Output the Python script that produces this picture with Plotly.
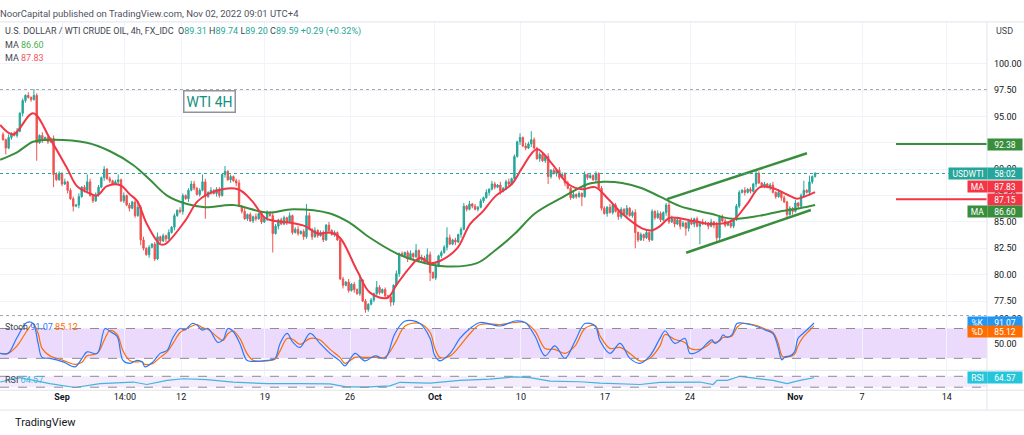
import plotly.graph_objects as go

# ---------------- data ----------------
closes = [
    92.8, 92.0, 93.0, 93.4, 93.2, 93.6, 95.3, 96.5, 97.0, 96.8,
    96.6, 97.0, 92.5, 93.2, 92.8, 93.0, 92.6, 92.9, 89.5, 89.0,
    89.6, 88.6, 88.8, 88.0, 87.2, 86.5, 86.6, 87.4, 88.3, 88.0,
    88.8, 87.5, 87.0, 87.6, 88.3, 89.2, 90.0, 89.1, 88.9, 88.6,
    88.8, 89.0, 87.0, 87.5, 86.6, 86.3, 86.9, 85.6, 86.4, 83.3,
    82.5, 81.9, 82.6, 82.9, 81.5, 83.6, 83.2, 83.7, 83.4, 84.0,
    84.5, 85.6, 86.1, 86.0, 87.5, 87.2, 88.0, 88.6, 88.2, 87.6,
    88.0, 88.8, 87.4, 87.8, 88.0, 87.7, 88.1, 87.5, 89.5, 89.8,
    89.0, 89.3, 88.9, 88.7, 86.5, 86.0, 85.3, 85.7, 85.1, 85.5,
    85.3, 85.8, 85.0, 85.4, 85.9, 85.6, 83.9, 84.6, 85.2, 84.8,
    85.4, 85.0, 85.6, 84.0, 84.3, 83.9, 84.1, 83.6, 85.6, 84.3,
    83.6, 84.2, 83.7, 84.0, 83.3, 84.7, 84.2, 83.8, 84.0, 83.3,
    79.6, 79.0, 79.3, 78.5, 79.1, 78.6, 78.2, 79.5, 77.5, 76.7,
    77.2, 77.6, 78.2, 78.8, 78.3, 78.6, 78.0, 77.9, 77.4, 79.0,
    80.1, 82.0, 81.8, 82.1, 81.5, 82.0, 81.7, 82.3, 81.4, 81.6,
    81.2, 81.9, 80.2, 79.7, 80.8, 81.8, 82.1, 82.6, 83.5, 82.9,
    83.3, 83.1, 83.8, 84.3, 86.5, 86.2, 86.7, 86.5, 86.2, 86.4,
    87.0, 87.3, 87.8, 88.1, 88.6, 88.3, 88.5, 87.9, 88.2, 88.8,
    88.6, 89.1, 91.2, 92.6, 93.0, 92.2, 92.0, 92.4, 92.8, 92.0,
    91.0, 91.4, 90.8, 91.2, 89.3, 89.9, 89.6, 89.9, 89.2, 89.5,
    88.7, 88.2, 87.3, 87.6, 87.4, 87.7, 87.4, 89.5, 89.2, 89.4,
    89.0, 89.6, 88.2, 86.3, 85.8, 86.4, 85.9, 86.6, 86.0, 85.5,
    86.2, 85.7, 86.3, 85.6, 85.9, 84.0, 83.3, 83.8, 83.5, 84.0,
    83.3, 86.0, 85.4, 85.8, 85.2, 85.9, 86.6, 85.0, 85.3, 84.8,
    85.2, 84.6, 84.9, 84.4, 85.1, 84.8, 85.3, 84.6, 85.0, 84.8,
    84.9, 84.6, 85.0, 84.7, 83.5, 85.5, 85.1, 84.7, 84.9, 84.6,
    85.2, 86.5, 87.8, 88.0, 87.8, 88.1, 87.9, 88.6, 89.6, 88.7,
    88.4, 88.6, 88.3, 88.5, 87.8, 87.4, 87.8, 87.3, 86.9, 85.7,
    86.3, 86.0, 86.8, 86.5, 87.5, 88.0, 87.8, 88.8, 89.31, 89.59,
]
first_open = 93.3
# wick lengths in tenths of a dollar, one digit per bar
up_wick = ("2131231213" "1221312132" "2131221312" "1312213121" "2213121312"
           "3121231213" "1213212131" "2131312213" "1212313121" "3121213212"
           "2131231213" "1312213121" "2213121312" "1213212131" "3121231213"
           "2131312213" "1212313121" "2131221312" "3121213212" "1221312132"
           "2213121312" "1312213121" "2131231213" "1213212131" "3121231213"
           "2131312213" "1221312132" "1212313121" "2131221312")
dn_wick = ("1312121321" "2121312131" "1213121312" "3121213121" "1312131213"
           "2131212131" "1312313121" "2121213213" "1313121212" "2121312131"
           "1312121321" "3121213121" "1312131213" "2121213213" "1312313121"
           "2131212131" "1313121212" "1213121312" "2121312131" "1312121321"
           "3121213121" "1312131213" "2131212131" "2121213213" "1312313121"
           "1313121212" "2121312131" "1213121312" "1312121321")
high_marks = {11: 97.6, 30: 89.5, 36: 90.3, 41: 89.5, 48: 87.0, 55: 84.0, 67: 88.9,
              71: 89.5, 79: 90.3, 108: 86.7, 127: 80.0, 133: 79.4, 147: 82.9,
              151: 82.5, 158: 84.5, 174: 88.9, 184: 93.4, 188: 93.6, 211: 89.8,
              237: 87.0, 268: 89.9, 285: 88.9, 287: 89.4, 289: 89.74}
low_marks = {1: 91.4, 12: 90.8, 18: 88.3, 25: 86.0, 49: 82.8, 54: 81.3, 72: 85.3,
             96: 82.1, 129: 76.4, 138: 77.0, 152: 79.4, 194: 88.6, 206: 86.5,
             225: 82.5, 243: 83.7, 248: 82.9, 254: 83.2, 279: 85.4, 289: 89.20}

# moving averages (bar index, value)
ma_fast_x = [-1.0, 3.6, 10.7, 16.7, 22.8, 26.3, 31.0, 33.5, 37.0, 41.6, 45.2, 47.7,
             51.2, 55.9, 57.7, 64.8, 69.4, 75.4, 83.6, 88.6, 93.2, 96.8, 102.8, 107.5,
             112.1, 116.4, 119.9, 126.0, 130.6, 136.7, 140.2, 144.8, 148.4, 152.0,
             155.5, 161.6, 166.2, 170.8, 175.1, 181.1, 184.7, 190.0, 195.4, 201.1,
             206.0, 210.7, 215.3, 220.3, 227.4, 231.0, 233.8, 237.4, 245.6, 251.6,
             259.4, 264.8, 269.4, 274.0, 279.0, 282.6, 286.1, 289.0]
ma_fast_v = [94.2, 93.3, 95.3, 92.9, 90.1, 88.4, 87.7, 87.5, 88.4, 88.5, 87.6, 87.0,
             84.8, 82.9, 82.9, 85.1, 87.0, 87.9, 88.1, 87.0, 85.4, 85.1, 84.9, 84.6,
             83.9, 84.0, 83.5, 80.4, 78.3, 77.8, 79.1, 80.7, 81.6, 81.1,
             81.3, 82.5, 84.8, 86.0, 87.4, 88.6, 90.1, 91.9, 90.5, 88.6,
             88.1, 88.3, 87.2, 85.8, 84.4, 84.2, 84.6, 85.4, 85.1, 84.8,
             85.1, 86.7, 88.3, 88.2, 87.6, 87.2, 87.5, 87.83]
ma_slow_x = [-1.0, 5.0, 10.7, 17.8, 29.9, 38.1, 46.3, 52.3, 58.4, 65.5, 71.9, 81.9,
             94.0, 103.2, 116.4, 123.5, 130.6, 140.2, 147.3, 156.6, 168.7, 175.1,
             182.2, 189.3, 198.9, 208.2, 213.2, 220.3, 227.4, 233.8, 240.9, 251.6,
             259.4, 269.4, 276.5, 283.6, 289.0]
ma_slow_v = [90.9, 91.6, 92.6, 92.8, 92.5, 91.7, 90.4, 89.0, 87.5, 86.7, 86.4, 86.6,
             85.9, 86.2, 85.8, 84.9, 83.5, 82.0, 81.3, 80.8, 81.1, 82.3,
             83.9, 85.8, 87.3, 88.6, 88.8, 88.7, 88.2, 87.4, 86.5, 85.8,
             85.3, 85.6, 86.0, 86.3, 86.6]

# stochastic (bar index, %K, %D)
stoch_x = [-1.0, 1.8, 5.0, 8.5, 10.7, 12.5, 13.9, 16.7, 21.4, 25.6, 28.1, 29.9, 33.5,
           36.3, 38.1, 40.6, 42.7, 45.2, 47.7, 49.5, 50.5, 53.4, 55.9, 58.4, 60.5,
           63.0, 64.8, 67.3, 69.0, 70.8, 73.0, 76.5, 78.3, 80.1, 81.9, 84.3, 86.8,
           89.0, 94.0, 96.8, 98.6, 101.1, 103.2, 105.7,
           109.3, 112.8, 116.4, 119.9, 121.7, 125.3, 128.8, 132.4, 135.9, 139.5,
           143.1, 148.4, 152.0, 153.7, 155.5, 159.1, 162.6, 166.2, 169.8, 176.9,
           182.2, 185.8, 189.3, 192.9, 196.4, 200.0, 203.6, 207.1, 210.7, 212.5,
           216.0, 219.6, 223.1, 226.7, 230.2, 233.8, 235.6, 239.1, 242.7, 244.5,
           248.0, 250.5, 252.3, 253.4, 255.2, 256.2, 257.7, 259.4, 261.2, 263.0,
           265.8, 268.7, 271.2, 274.0, 275.8, 277.2, 278.3, 280.1, 281.7, 282.9,
           284.7, 287.2, 288.6]
stoch_k = [30, 30, 62, 92, 90, 50, 22, 20, 13, 3, 20, 33, 30, 80, 74, 64, 16, 10, 16, 13,
           3, 13, 30, 36, 62, 80, 77, 90, 87, 77, 80, 52, 57, 80, 74, 50, 16, 14, 16, 20,
           50, 70, 52, 42,
           70, 50, 30, 15, 5, 30, 15, 25, 20, 70, 95, 90, 60, 25, 15, 30, 60, 80, 92, 85,
           95, 92, 65, 25, 45, 20, 55, 90, 85, 55, 30, 50, 20, 10, 25, 60, 75, 50, 60, 30,
           36, 50, 57, 50, 58, 67, 62, 67, 90, 91, 88, 83, 77, 70, 43, 17, 23, 25, 33, 60,
           70, 83, 91.07]
stoch_d = [30, 30, 45, 75, 90, 70, 40, 25, 16, 8, 12, 25, 30, 60, 76, 68, 35, 15, 13, 13,
           8, 10, 22, 33, 50, 72, 78, 85, 88, 82, 78, 62, 56, 70, 75, 60, 30, 16, 15, 18,
           35, 60, 58, 48,
           60, 57, 38, 22, 10, 22, 22, 22, 22, 50, 85, 90, 72, 40, 22, 25, 45, 70, 88, 88,
           92, 92, 75, 40, 38, 30, 45, 80, 86, 65, 40, 42, 30, 15, 20, 45, 68, 58, 52, 40,
           38, 45, 53, 52, 56, 62, 63, 65, 82, 90, 89, 85, 79, 72, 52, 25, 22, 24, 28, 45,
           62, 77, 85.12]

# RSI (bar index, value)
rsi_x = [-1.0, 6.0, 16.7, 25.6, 34.5, 46.3, 51.2, 58.4, 64.1, 72.6, 81.9, 94.0, 105.7,
         116.4, 121.7, 128.8, 137.7, 141.3, 152.0, 162.6, 173.3, 182.2, 187.5, 194.7,
         205.3, 212.5, 226.7, 233.8, 248.0, 252.7, 254.1, 257.7, 262.3, 266.9, 274.0,
         279.0, 283.6, 288.6]
rsi_v = [49, 65, 43, 29, 43, 49, 40, 55, 61, 58, 49, 43, 43, 42, 32, 30, 35, 48, 45, 55,
         60, 68, 65, 52, 50, 45, 40, 48, 49, 40, 55, 55, 70, 65, 55, 43, 55, 64.57]

# drawings
channel_upper = ([236.3, 286.1], [87.17, 91.51])
channel_lower = ([243.1, 287.5], [82.08, 86.13])
level_start = 317.8
level_resistance = 92.38
level_support = 87.15
last_price = 89.59
marked_high = 97.55

tick_pos = [21.0, 43.4, 63.4, 93.2, 123.5, 153.7, 184.3, 214.2, 244.5, 281.9, 305.7, 335.9]
tick_txt = ["<b>Sep</b>", "14:00", "12", "19", "26", "<b>Oct</b>", "10", "17", "24",
            "<b>Nov</b>", "7", "14"]
price_ticks = [77.5, 80.0, 82.5, 85.0, 87.5, 90.0, 92.5, 95.0, 97.5, 100.0]

# ---------------- styling ----------------
W, H = 1024, 435
UP, DOWN = "#26a69a", "#ef5350"
MA_RED, MA_GREEN = "#f23645", "#388e3c"
TXT = "#131722"
FONT = "Roboto, Liberation Sans, sans-serif"

def px(x):
    return x / W

def py(y):
    return 1 - y / H

n = len(closes)
bars = list(range(n))
opens = [first_open] + closes[:-1]
highs, lows = [], []
for i, (o, c) in enumerate(zip(opens, closes)):
    highs.append(high_marks.get(i, round(max(o, c) + int(up_wick[i]) / 10, 2)))
    lows.append(low_marks.get(i, round(min(o, c) - int(dn_wick[i]) / 10, 2)))

fig = go.Figure()
fig.add_trace(go.Candlestick(
    x=bars, open=opens, high=highs, low=lows, close=closes,
    increasing=dict(line=dict(color=UP, width=1), fillcolor=UP),
    decreasing=dict(line=dict(color=DOWN, width=1), fillcolor=DOWN),
    whiskerwidth=0, hoverinfo="skip", xaxis="x", yaxis="y"))
fig.add_trace(go.Scatter(x=ma_slow_x, y=ma_slow_v, mode="lines",
                         line=dict(color=MA_GREEN, width=2, shape="spline"), yaxis="y"))
fig.add_trace(go.Scatter(x=ma_fast_x, y=ma_fast_v, mode="lines",
                         line=dict(color=MA_RED, width=2, shape="spline"), yaxis="y"))
for xs, ys in (channel_upper, channel_lower):
    fig.add_trace(go.Scatter(x=xs, y=ys, mode="lines", line=dict(color=MA_GREEN, width=2.5),
                             yaxis="y"))
fig.add_trace(go.Scatter(x=[level_start, 350.2], y=[level_resistance] * 2, mode="lines",
                         line=dict(color=MA_GREEN, width=2), yaxis="y"))
fig.add_trace(go.Scatter(x=[level_start, 350.2], y=[level_support] * 2, mode="lines",
                         line=dict(color=MA_RED, width=2), yaxis="y"))
fig.add_trace(go.Scatter(x=stoch_x, y=stoch_d, mode="lines",
                         line=dict(color="#ff6d00", width=1.2, shape="spline"), yaxis="y2"))
fig.add_trace(go.Scatter(x=stoch_x, y=stoch_k, mode="lines",
                         line=dict(color="#2979ff", width=1.2, shape="spline"), yaxis="y2"))
fig.add_trace(go.Scatter(x=rsi_x, y=rsi_v, mode="lines",
                         line=dict(color="#3fb6dc", width=1.2), yaxis="y3"))

shapes = [
    dict(type="rect", xref="x domain", x0=0, x1=1, yref="y2", y0=20, y1=80,
         fillcolor="#ebdafb", line=dict(width=0), layer="below"),
    dict(type="rect", xref="x domain", x0=0, x1=1, yref="y3", y0=30, y1=70,
         fillcolor="#f4ebfd", line=dict(width=0), layer="below"),
]
for yr, lv in (("y2", 80), ("y2", 20), ("y3", 70), ("y3", 30)):
    shapes.append(dict(type="line", xref="x domain", x0=0, x1=1, yref=yr, y0=lv, y1=lv,
                       line=dict(color="#8e8a9a", width=1, dash="dash")))
shapes += [
    dict(type="line", xref="x domain", x0=0, x1=1, yref="y", y0=last_price, y1=last_price,
         line=dict(color=UP, width=1, dash="dot")),
    dict(type="line", xref="x domain", x0=0, x1=1, yref="y", y0=marked_high, y1=marked_high,
         line=dict(color="#a3a6af", width=1, dash="dot")),
    # pane borders
    dict(type="line", xref="paper", x0=0, x1=px(987), yref="paper", y0=py(315), y1=py(315),
         line=dict(color="#a3a6af", width=1, dash="dot")),
    dict(type="line", xref="paper", x0=0, x1=1, yref="paper", y0=py(20), y1=py(20),
         line=dict(color="#e0e3eb", width=1)),
    dict(type="line", xref="paper", x0=0, x1=1, yref="paper", y0=py(370), y1=py(370),
         line=dict(color="#e0e3eb", width=1)),
    dict(type="line", xref="paper", x0=0, x1=1, yref="paper", y0=py(390), y1=py(390),
         line=dict(color="#e0e3eb", width=1)),
    dict(type="line", xref="paper", x0=0, x1=1, yref="paper", y0=py(410), y1=py(410),
         line=dict(color="#e0e3eb", width=1)),
    dict(type="line", xref="paper", x0=px(987), x1=px(987), yref="paper", y0=py(20),
         y1=py(410), line=dict(color="#e0e3eb", width=1)),
]

ann = []
def text(x, y, s, size=9, color=TXT, **kw):
    ann.append(dict(xref="paper", yref="paper", x=px(x), y=py(y), text=s, showarrow=False,
                    xanchor=kw.pop("xanchor", "left"), yanchor="middle",
                    font=dict(size=size, color=color, family=FONT), **kw))

def tag(label_x, width, yref, yval, s, bg, yshift=0):
    ann.append(dict(xref="paper", x=px(label_x), xanchor="left", yref=yref, y=yval,
                    yanchor="middle", yshift=yshift, text=s, showarrow=False,
                    width=width, height=11, bgcolor=bg, borderpad=0, align="center",
                    font=dict(size=8.5, color="white", family=FONT)))

G = "#26a69a"
text(-2, 12, "NoorCapital published on TradingView.com, Nov 02, 2022 09:01 UTC+4",
     size=9.5, color="#50535e")
text(3, 30, "U.S. DOLLAR / WTI CRUDE OIL, 4h, FX_IDC  "
     f"O<span style='color:{G}'>89.31</span> H<span style='color:{G}'>89.74</span> "
     f"L<span style='color:{G}'>89.20</span> C<span style='color:{G}'>89.59</span> "
     f"<span style='color:{G}'>+0.29 (+0.32%)</span>", size=9, color="#434651")
text(3, 43, "MA <span style='color:#4caf50'>86.60</span>", color="#434651")
text(3, 56, "MA <span style='color:#f7525f'>87.83</span>", color="#434651")
text(994, 29, "USD", color="#434651")
text(3, 326, "Stoch <span style='color:#2979ff'>91.07</span> "
     "<span style='color:#ff6d00'>85.12</span>", color="#434651")
text(3, 380, "RSI <span style='color:#3fb6dc'>64.57</span>", color="#434651")
text(13, 422, "TradingView", size=11, color="#131722")
ann.append(dict(xref="paper", yref="paper", x=px(183), y=py(100), xanchor="left",
                yanchor="middle", text="WTI 4H", showarrow=False, bgcolor="white",
                bordercolor="#8f939c", borderwidth=1.5, borderpad=2,
                font=dict(size=14, color="#138f80", family=FONT)))

tag(987, 34, "y", level_resistance, "92.38", "#388e3c")
tag(948, 38, "y", last_price, "USDWTI", "#26a69a")
tag(987, 34, "y", last_price, "58:02", "#26a69a")
tag(967, 19, "y", 87.83, "MA", "#f23645", yshift=6)
tag(987, 34, "y", 87.83, "87.83", "#f23645", yshift=6)
tag(987, 34, "y", level_support, "87.15", "#f23645")
tag(967, 19, "y", 86.60, "MA", "#388e3c", yshift=-6)
tag(987, 34, "y", 86.60, "86.60", "#388e3c", yshift=-6)
tag(967, 19, "y2", 91.07, "%K", "#2196f3")
tag(987, 34, "y2", 91.07, "91.07", "#2196f3")
tag(967, 19, "y2", 85.12, "%D", "#ff6d00", yshift=-6)
tag(987, 34, "y2", 85.12, "85.12", "#ff6d00", yshift=-6)
tag(967, 19, "y3", 64.57, "RSI", "#26c6da")
tag(987, 34, "y3", 64.57, "64.57", "#26c6da")

fig.update_layout(
    width=W, height=H, margin=dict(l=0, r=0, t=0, b=0),
    paper_bgcolor="white", plot_bgcolor="white", showlegend=False,
    font=dict(family=FONT, size=9, color=TXT),
    xaxis=dict(domain=[0, px(987)], range=[-1.068, 350.18], anchor="y3",
               tickvals=tick_pos, ticktext=tick_txt, showgrid=True, gridcolor="#f0f3fa",
               zeroline=False, showline=False, ticks="", rangeslider=dict(visible=False),
               tickfont=dict(size=9, color=TXT, family=FONT)),
    yaxis=dict(domain=[py(315), py(20)], range=[76.13, 103.96], side="right", anchor="x",
               tickvals=price_ticks, ticktext=[f"{v:.2f}" for v in price_ticks],
               gridcolor="#f0f3fa", zeroline=False, ticks="", ticklabelstandoff=6,
               tickfont=dict(size=9, color=TXT, family=FONT)),
    yaxis2=dict(domain=[py(370), py(315)], range=[-4, 106], side="right", anchor="x",
                tickvals=[50, 100], ticktext=["50.00", "100.00"], showgrid=False,
                zeroline=False, ticks="", ticklabelstandoff=6,
                tickfont=dict(size=9, color=TXT, family=FONT)),
    yaxis3=dict(domain=[py(390), py(370)], range=[19, 92], side="right", anchor="x",
                showticklabels=False, showgrid=False, zeroline=False),
    shapes=shapes, annotations=ann,
)
fig.write_html("out.html", config={"displayModeBar": False, "staticPlot": True},
               post_script="document.body.style.margin='0px';"
               "document.body.style.overflow='hidden';")
